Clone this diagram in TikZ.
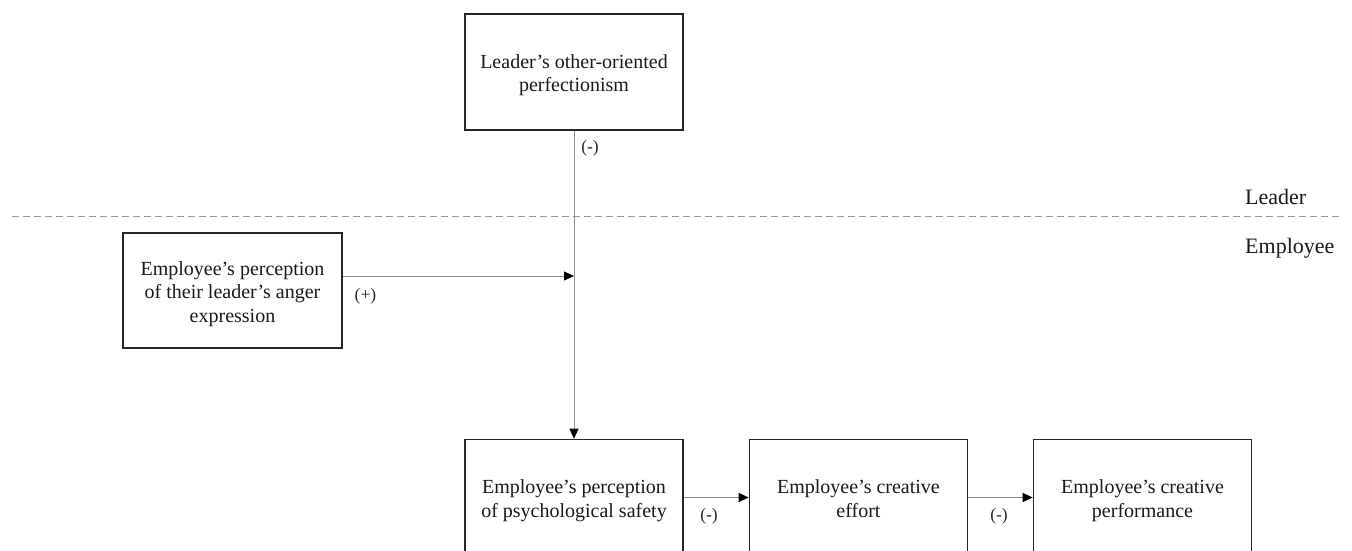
\documentclass[tikz,border=0pt]{standalone}
\usepackage{fontspec}
\setmainfont{Liberation Serif}
\usetikzlibrary{arrows.meta}
\newcommand\bxtop{\rule{0pt}{22pt}}
\newcommand\bxbot{\rule[-6pt]{0pt}{6pt}}
\begin{document}
\begin{tikzpicture}[x=1pt,y=-1pt,
  box/.style={draw=black!85, line width=1.6pt, minimum width=218pt, minimum height=116pt,
    align=center, font=\fontsize{20}{23.5}\selectfont, inner sep=0pt, text=black!90},
  conn/.style={draw=black!45, line width=1pt},
  arr/.style={conn, -{Triangle[length=10pt,width=9pt,color=black,fill=black]}},
  lab/.style={font=\fontsize{17.5}{20}\selectfont, text=black!85, inner sep=0pt},
  side/.style={font=\fontsize{22}{26}\selectfont, anchor=base west, inner sep=0pt, text=black!90},
  divider/.style={draw=black!40, line width=1pt, dash pattern=on 7pt off 4pt}]
\useasboundingbox (0,0) rectangle (1352,551);
\clip (0,0) rectangle (1352,551);

% boxes
\node[box] (top) at (574,72) {\bxtop Leader’s other-oriented\\perfectionism\bxbot};
\node[box, minimum width=219pt, minimum height=115pt] (left) at (232.5,290.5)
  {\bxtop Employee’s perception\\of their leader’s anger\\expression\bxbot};
\node[box] (b1) at (574,497.5) {\bxtop Employee’s perception\\of psychological safety\bxbot};
\node[box] (b2) at (858.5,497.5) {\bxtop Employee’s creative\\effort\bxbot};
\node[box] (b3) at (1142.5,497.5) {\bxtop Employee’s creative\\performance\bxbot};

% divider
\coordinate (dl) at (12,216);
\coordinate (dr) at (1340,216);
\draw[divider] (dl) -- (dr);
\node[side] (leader) at (1245,204) {Leader};
\node[side] (employee) at (1245,253) {Employee};

% connectors
\coordinate (junc) at (574,276);
\draw[arr] (top.south) -- (b1.north);
\draw[arr] (left.east |- junc) -- (junc);
\draw[arr] (b1.east) -- (b2.west);
\draw[arr] (b2.east) -- (b3.west);

% labels
\node[lab] (l1) at (590,148) {(-)};
\node[lab] (l2) at (365.5,296) {(+)};
\node[lab] (l3) at (709,516) {(-)};
\node[lab] (l4) at (999,516) {(-)};
\end{tikzpicture}
\end{document}
